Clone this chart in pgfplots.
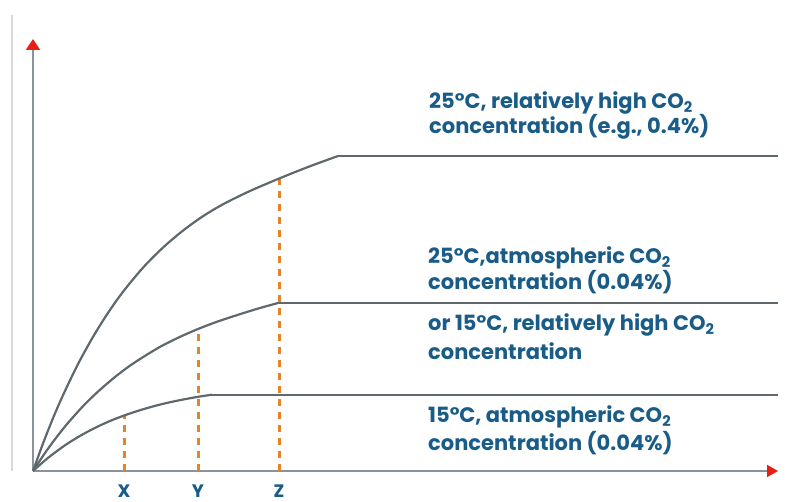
\documentclass[border=0pt]{standalone}
\usepackage{fontspec}
\setmainfont{Poppins}
\usepackage{pgfplots}
\pgfplotsset{compat=1.18}
\usetikzlibrary{arrows.meta}
\definecolor{curve}{RGB}{95,104,108}
\definecolor{axisgray}{RGB}{135,148,155}
\definecolor{dashor}{RGB}{228,132,40}
\definecolor{txt}{RGB}{25,92,135}
\definecolor{arrred}{RGB}{235,30,20}
\begin{document}
\begin{tikzpicture}[x=1pt,y=1pt]
\path[use as bounding box] (0,0) rectangle (792,502);
\draw[black!15, line width=1.2pt] (12,31) -- (12,487);
\begin{axis}[
  at={(33pt,31pt)}, anchor=origin,
  x=1pt, y=1pt,
  xmin=0, xmax=745, ymin=0, ymax=432,
  axis lines=left,
  axis line style={axisgray, line width=1.8pt},
  x axis line style={-{Triangle[color=arrred,width=12pt,length=11pt]}},
  y axis line style={-{Triangle[color=arrred,width=14pt,length=11pt]}},
  xtick={91,165,246}, xticklabels={X,Y,Z},
  ytick=\empty,
  major tick length=0pt,
  xticklabel style={font=\fontsize{18}{18}\selectfont\bfseries, text=txt, yshift=-10pt},
  clip=false,
]
% dashed drop lines
\addplot[draw=dashor, line width=3pt, dash pattern=on 7pt off 6pt] coordinates {(91,0) (91,55.8)};
\addplot[draw=dashor, line width=3pt, dash pattern=on 7pt off 6pt] coordinates {(165,0) (165,142)};
\addplot[draw=dashor, line width=3pt, dash pattern=on 7pt off 6pt] coordinates {(246,0) (246,292)};
% curves
\addplot[curve, line width=2.2pt, smooth, line join=round] coordinates {
 (0,0) (10,27.5) (20,52.8) (30,75.8) (45,106.9) (60,134.1) (75,158.1) (90,179.2)
 (110,203.3) (130,223.4) (150,240.4) (170,254.8) (190,266.7) (215,279.1)
 (245,292) (275,304) (305,315)};
\addplot[curve, line width=2.2pt] coordinates {(305,315) (745,315)};
\addplot[curve, line width=2.2pt, smooth, line join=round] coordinates {
 (0,0) (15,22.3) (32,44.5) (50,64.8) (65,79.4) (82,94) (100,107.4) (125,123)
 (145,133.2) (165,142) (185,149.6) (205,156.2) (225,162.4) (245,168)};
\addplot[curve, line width=2.2pt] coordinates {(245,168) (745,168)};
\addplot[curve, line width=2.2pt, smooth, line join=round] coordinates {
 (0,0) (15,13.1) (32,25.7) (47,35.1) (62,43.1) (77,50) (92,55.8) (108,61.1)
 (125,65.9) (140,69.4) (155,72.4) (167,74.5) (179,76.3)};
\addplot[curve, line width=2.2pt] coordinates {(179,76.3) (745,76.3)};
% labels
\begin{scope}[every node/.style={anchor=base west, text=txt, font=\fontsize{21}{21}\selectfont\bfseries, inner sep=0pt}]
\node at (axis cs:396,362) {25°C, relatively high CO\textsubscript{2}};
\node at (axis cs:396,337) {concentration (e.g., 0.4\%)};
\node at (axis cs:395,207) {25°C,atmospheric CO\textsubscript{2}};
\node at (axis cs:395,181) {concentration (0.04\%)};
\node at (axis cs:395,140) {or 15°C, relatively high CO\textsubscript{2}};
\node at (axis cs:395,111) {concentration};
\node at (axis cs:395,48) {15°C, atmospheric CO\textsubscript{2}};
\node at (axis cs:395,20) {concentration (0.04\%)};
\end{scope}
\end{axis}
\end{tikzpicture}
\end{document}
